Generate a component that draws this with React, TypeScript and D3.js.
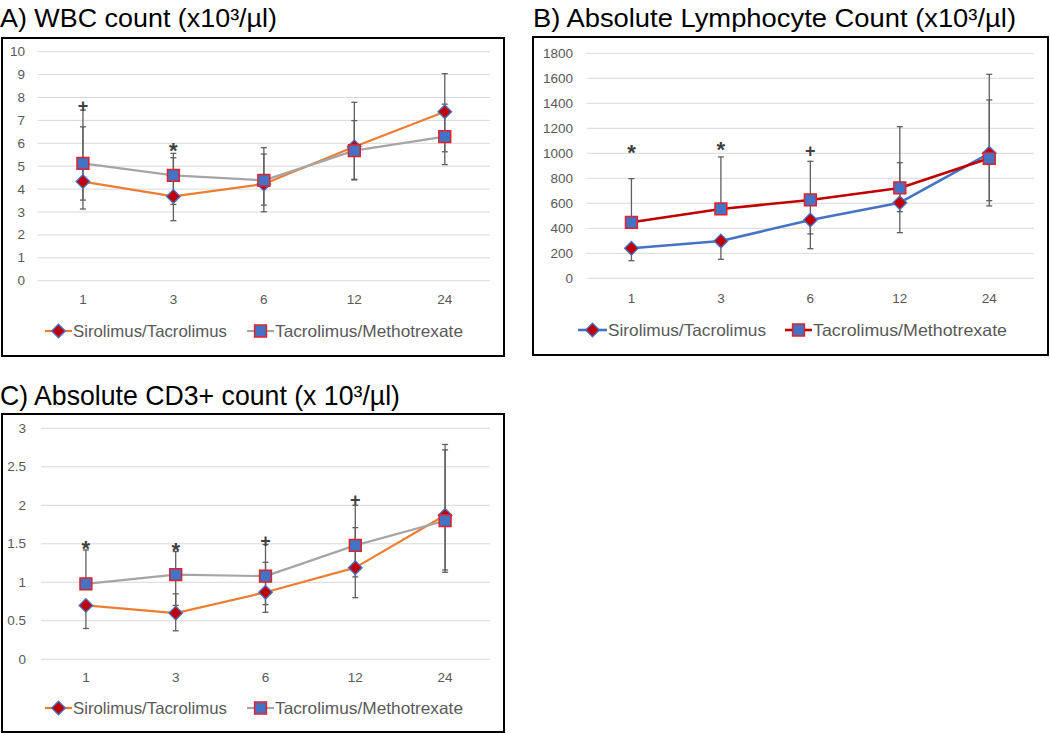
import React from "react";
import * as d3 from "d3";

// ---------- data ----------
const months = ["1", "3", "6", "12", "24"];
const seriesNames = ["Sirolimus/Tacrolimus", "Tacrolimus/Methotrexate"];

// A) WBC count
const wbcSiro = [4.33, 3.68, 4.22, 5.85, 7.38];
const wbcTacro = [5.12, 4.6, 4.38, 5.68, 6.29];
const wbcSiroLow = [3.13, 2.62, 3.01, 4.4, 5.63];
const wbcSiroHigh = [6.72, 5.37, 5.53, 6.99, 9.04];
const wbcTacroLow = [3.52, 3.33, 3.3, 4.43, 5.07];
const wbcTacroHigh = [7.45, 5.56, 5.81, 7.79, 7.71];
const wbcTicks = [0, 1, 2, 3, 4, 5, 6, 7, 8, 9, 10];
const wbcSymbols = ["+", "*", "", "", ""];
const wbcSymbolY = [7.65, 5.8, 0, 0, 0];

// B) Absolute lymphocyte count
const alcSiro = [240, 299, 467, 605, 1000];
const alcTacro = [448, 555, 627, 723, 960];
const alcSiroLow = [141, 152, 237, 365, 579];
const alcSiroHigh = [240, 299, 467, 925, 1427];
const alcTacroLow = [448, 555, 355, 533, 621];
const alcTacroHigh = [797, 971, 936, 1213, 1632];
const alcTicks = [0, 200, 400, 600, 800, 1000, 1200, 1400, 1600, 1800];
const alcSymbols = ["*", "*", "+", "", ""];
const alcSymbolY = [1026, 1050, 1021, 0, 0];

// C) Absolute CD3+ count
const cd3Siro = [0.7, 0.6, 0.87, 1.19, 1.87];
const cd3Tacro = [0.98, 1.1, 1.08, 1.48, 1.8];
const cd3SiroLow = [0.4, 0.37, 0.61, 0.8, 1.16];
const cd3SiroHigh = [0.7, 0.85, 1.26, 1.71, 2.79];
const cd3TacroLow = [0.98, 0.7, 0.71, 1.07, 1.13];
const cd3TacroHigh = [1.42, 1.4, 1.49, 2.0, 2.72];
const cd3Ticks = [0, 0.5, 1, 1.5, 2, 2.5, 3];
const cd3Symbols = ["*", "*", "+", "+", ""];
const cd3SymbolY = [1.47, 1.45, 1.53, 2.07, 0];

// ---------- styling ----------
const FONT = "'Liberation Sans', Arial, sans-serif";
const GRID = "#d9d9d9";
const TICK = "#595959";
const ERR = "#5f5f5f";
const ORANGE = "#ed7d31";
const GRAY = "#a5a5a5";
const BLUE = "#4472c4";
const RED = "#c00000";

type PanelCfg = {
  title: string;
  titleX: number;
  titleY: number;
  titleW: number;
  titleSize: number;
  box: [number, number, number, number];
  xRange: [number, number];
  yRange: [number, number];
  yMax: number;
  ticks: number[];
  yLabelRight: number;
  xLabelY: number;
  legendY: number;
  legendX: [number, number, number, number];
  legendW: [number, number];
  colors: [string, string];
  lineW: number;
  vals: [number[], number[]];
  lows: [number[], number[]];
  highs: [number[], number[]];
  syms: string[];
  symY: number[];
};

const panels: PanelCfg[] = [
  {
    title: "A) WBC count (x10³/µl)",
    titleX: 0,
    titleY: 27,
    titleW: 277,
    titleSize: 26,
    box: [2, 38, 504, 356],
    xRange: [37.7, 490],
    yRange: [280.7, 51.7],
    yMax: 10,
    ticks: wbcTicks,
    yLabelRight: 25,
    xLabelY: 299,
    legendY: 331,
    legendX: [45, 73, 247, 275],
    legendW: [154, 188],
    colors: [ORANGE, GRAY],
    lineW: 2.2,
    vals: [wbcSiro, wbcTacro],
    lows: [wbcSiroLow, wbcTacroLow],
    highs: [wbcSiroHigh, wbcTacroHigh],
    syms: wbcSymbols,
    symY: wbcSymbolY,
  },
  {
    title: "B) Absolute Lymphocyte Count (x10³/µl)",
    titleX: 533,
    titleY: 27,
    titleW: 483,
    titleSize: 26,
    box: [533, 37, 1048, 355],
    xRange: [586.7, 1034],
    yRange: [278.3, 53.3],
    yMax: 1800,
    ticks: alcTicks,
    yLabelRight: 573,
    xLabelY: 298,
    legendY: 330,
    legendX: [578, 608, 785, 813],
    legendW: [158, 194],
    colors: [BLUE, RED],
    lineW: 2.6,
    vals: [alcSiro, alcTacro],
    lows: [alcSiroLow, alcTacroLow],
    highs: [alcSiroHigh, alcTacroHigh],
    syms: alcSymbols,
    symY: alcSymbolY,
  },
  {
    title: "C) Absolute CD3+ count (x 10³/µl)",
    titleX: 0,
    titleY: 405,
    titleW: 400,
    titleSize: 28,
    box: [2, 414, 504, 732],
    xRange: [41, 490],
    yRange: [659.3, 428.3],
    yMax: 3,
    ticks: cd3Ticks,
    yLabelRight: 26,
    xLabelY: 677,
    legendY: 708,
    legendX: [45, 73, 247, 275],
    legendW: [154, 188],
    colors: [ORANGE, GRAY],
    lineW: 2.2,
    vals: [cd3Siro, cd3Tacro],
    lows: [cd3SiroLow, cd3TacroLow],
    highs: [cd3SiroHigh, cd3TacroHigh],
    syms: cd3Symbols,
    symY: cd3SymbolY,
  },
];

const DR = 6.8;
const diamondPath = `M0,${-DR}L${DR},0L0,${DR}L${-DR},0Z`;
const squarePath = d3.symbol(d3.symbolSquare, 140)()!;

function Marker({ kind, x, y }: { kind: number; x: number; y: number }) {
  if (kind === 0) {
    return (
      <path
        d={diamondPath}
        transform={`translate(${x},${y})`}
        fill={RED}
        stroke={BLUE}
        strokeWidth={1.3}
      />
    );
  }
  return (
    <path
      d={squarePath}
      transform={`translate(${x},${y})`}
      fill={BLUE}
      stroke="#e0202a"
      strokeWidth={1.5}
    />
  );
}

function Panel({ p }: { p: PanelCfg }) {
  const x = d3.scaleBand<string>().domain(months).range(p.xRange);
  const y = d3.scaleLinear().domain([0, p.yMax]).range(p.yRange);
  const cx = (m: string) => (x(m) ?? 0) + x.bandwidth() / 2;
  const line = d3
    .line<number>()
    .x((_, i) => cx(months[i]))
    .y((v) => y(v));
  const [bx0, by0, bx1, by1] = p.box;
  const capW = 3;
  return (
    <g>
      <text
        x={p.titleX}
        y={p.titleY}
        fontFamily={FONT}
        fontSize={p.titleSize}
        fill="#000"
        textLength={p.titleW}
        lengthAdjust="spacingAndGlyphs"
      >
        {p.title}
      </text>
      <rect
        x={bx0}
        y={by0}
        width={bx1 - bx0}
        height={by1 - by0}
        fill="#fff"
        stroke="#000"
        strokeWidth={2}
      />
      {p.ticks.map((t) => (
        <g key={t}>
          <line
            x1={p.xRange[0]}
            x2={p.xRange[1]}
            y1={y(t)}
            y2={y(t)}
            stroke={GRID}
            strokeWidth={1}
          />
          <text
            x={p.yLabelRight}
            y={y(t)}
            textAnchor="end"
            dominantBaseline="central"
            fontFamily={FONT}
            fontSize={13.5}
            fill={TICK}
          >
            {String(t)}
          </text>
        </g>
      ))}
      {months.map((m) => (
        <text
          key={m}
          x={cx(m)}
          y={p.xLabelY}
          textAnchor="middle"
          dominantBaseline="central"
          fontFamily={FONT}
          fontSize={13.5}
          fill={TICK}
        >
          {m}
        </text>
      ))}
      {[0, 1].map((s) =>
        months.map((m, i) => {
          const lo = y(p.lows[s][i]);
          const hi = y(p.highs[s][i]);
          const xx = cx(m);
          return (
            <g key={`e${s}-${m}`} stroke={ERR} strokeWidth={1.3}>
              <line x1={xx} x2={xx} y1={lo} y2={hi} />
              <line x1={xx - capW} x2={xx + capW} y1={lo} y2={lo} />
              <line x1={xx - capW} x2={xx + capW} y1={hi} y2={hi} />
            </g>
          );
        })
      )}
      {[0, 1].map((s) => (
        <path
          key={`l${s}`}
          d={line(p.vals[s]) ?? ""}
          fill="none"
          stroke={p.colors[s]}
          strokeWidth={p.lineW}
          strokeLinejoin="round"
        />
      ))}
      {[0, 1].map((s) =>
        months.map((m, i) => (
          <Marker key={`m${s}-${m}`} kind={s} x={cx(m)} y={y(p.vals[s][i])} />
        ))
      )}
      {months.map((m, i) =>
        p.syms[i] ? (
          <text
            key={`s${m}`}
            x={cx(m)}
            y={y(p.symY[i]) + (p.syms[i] === "*" ? 10 : 6)}
            textAnchor="middle"
            fontFamily={FONT}
            fontSize={p.syms[i] === "*" ? 22 : 18}
            fontWeight="bold"
            fill="#404040"
          >
            {p.syms[i]}
          </text>
        ) : null
      )}
      {[0, 1].map((s) => {
        const lx = p.legendX[s * 2];
        const tx = p.legendX[s * 2 + 1];
        return (
          <g key={`lg${s}`}>
            <line
              x1={lx}
              x2={tx - 1}
              y1={p.legendY}
              y2={p.legendY}
              stroke={p.colors[s]}
              strokeWidth={p.lineW}
            />
            <Marker kind={s} x={(lx + tx - 1) / 2} y={p.legendY} />
            <text
              x={tx}
              y={p.legendY}
              dominantBaseline="central"
              fontFamily={FONT}
              fontSize={16.5}
              fill={TICK}
              textLength={p.legendW[s]}
              lengthAdjust="spacingAndGlyphs"
            >
              {seriesNames[s]}
            </text>
          </g>
        );
      })}
    </g>
  );
}

export default function App() {
  return (
    <svg
      width={1050}
      height={734}
      style={{ position: "absolute", left: 0, top: 0, background: "#fff" }}
    >
      <rect x={0} y={0} width={1050} height={734} fill="#fff" />
      {panels.map((p, i) => (
        <Panel key={i} p={p} />
      ))}
    </svg>
  );
}
